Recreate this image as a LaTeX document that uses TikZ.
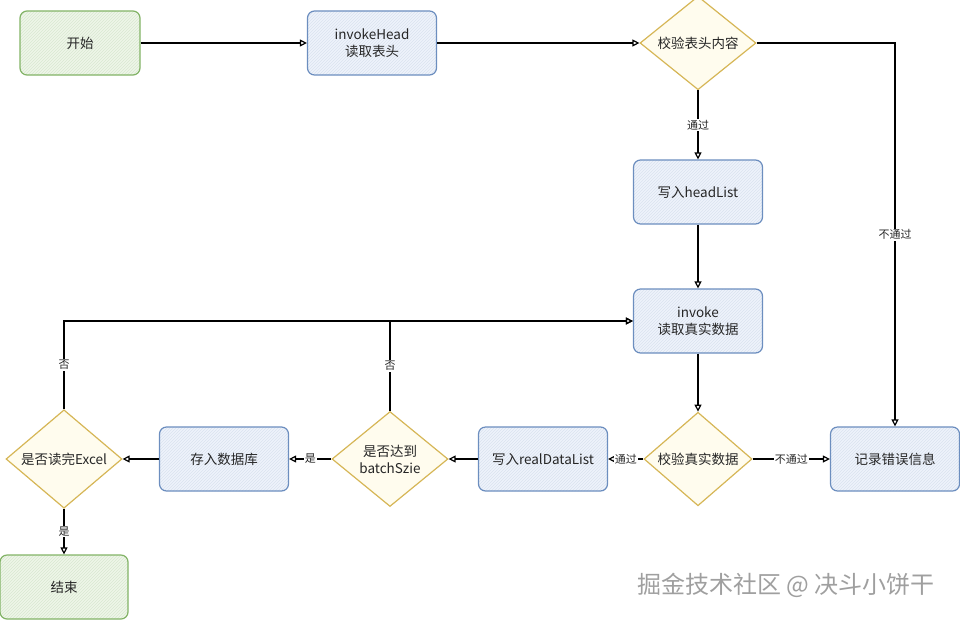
\documentclass[tikz,border=0pt]{standalone}
\usepackage{fontspec}
\setmainfont{Noto Sans CJK SC}
\usepackage{tikz}
\usetikzlibrary{calc,positioning}
\usetikzlibrary{arrows.meta,patterns,shapes}
\definecolor{endline}{HTML}{82B366}
\definecolor{endfill}{HTML}{EEF6E8}
\definecolor{stepline}{HTML}{6C8EBF}
\definecolor{stepfill}{HTML}{EEF3FB}
\definecolor{askline}{HTML}{D6B656}
\definecolor{askfill}{HTML}{FFFCEE}
\begin{document}
\begin{tikzpicture}[x=1pt,y=-1pt,node distance=150pt,
    every node/.style={font=\fontsize{13.5pt}{17pt}\selectfont,text=black!85},
    ends/.style={draw=endline,line width=1.2pt,rounded corners=7pt,preaction={fill=endfill},pattern=north east lines,pattern color=endline!30,minimum width=120pt,minimum height=64pt},
    stepbox/.style={draw=stepline,line width=1.2pt,rounded corners=7pt,preaction={fill=stepfill},pattern=north east lines,pattern color=stepline!25,minimum width=129pt,minimum height=64pt,align=center,inner sep=3pt},
    ask/.style={diamond,draw=askline,line width=1.2pt,fill=askfill,minimum width=116pt,minimum height=85pt,inner sep=0pt,align=center},
    flow/.style={draw,line width=1.2pt,-{Triangle[open,length=7pt,width=7pt]}},
    lbl/.style={fill=white,inner sep=1pt,font=\fontsize{11pt}{13pt}\selectfont}]
    \useasboundingbox (0,0) rectangle (960,619);

    \node[ends] (start) at (80,43) {开始};
    \node[stepbox,right of=start,node distance=292pt] (head) {invokeHead\\读取表头};
    \node[ask,right of=head,node distance=326pt] (chkhead) {校验表头内容};
    \node[stepbox,below of=chkhead,node distance=149pt] (headlist) {写入headList};
    \node[stepbox,below of=headlist,node distance=129pt] (invoke) {invoke\\读取真实数据};
    \node[ask,below of=invoke,node distance=138pt,minimum width=108pt] (chkdata) {校验真实数据};
    \node[stepbox,right of=chkdata,node distance=197pt] (error) {记录错误信息};
    \node[stepbox,left of=chkdata,node distance=155pt] (reallist) {写入realDataList};
    \node[ask,left of=reallist,node distance=153pt,minimum height=95pt] (batch) {是否达到\\batchSzie};
    \node[stepbox,left of=batch,node distance=166pt] (save) {存入数据库};
    \node[ask,left of=save,node distance=160pt] (excel) {是否读完Excel};
    \node[ends,below of=excel,node distance=128pt,minimum width=128pt] (finish) {结束};

    \draw[flow] (start) -- (head);
    \draw[flow] (head) -- (chkhead);
    \draw[flow] (chkhead) -- node[lbl] {通过} (headlist);
    \draw[flow] (chkhead.east) -| node[lbl,pos=0.75] {不通过} (error.north);
    \draw[flow] (headlist) -- (invoke);
    \draw[flow] (invoke) -- (chkdata);
    \draw[flow] (chkdata) -- node[lbl] {通过} (reallist);
    \draw[flow] (chkdata) -- node[lbl] {不通过} (error);
    \draw[flow] (reallist) -- (batch);
    \draw[flow] (batch) -- node[lbl] {是} (save);
    \draw[flow] (save) -- (excel);
    \draw[flow] (excel) -- node[lbl] {是} (finish);
    \draw[flow] (excel.north) |- node[lbl,pos=0.25] {否} (invoke.west);
    \draw[flow] (batch.north) |- node[lbl,pos=0.25] {否} (invoke.west);

    \node[text=gray!75,font=\fontsize{24pt}{28pt}\selectfont] (mark) at (786,585) {掘金技术社区 @ 决斗小饼干};
  \end{tikzpicture}
\end{document}
